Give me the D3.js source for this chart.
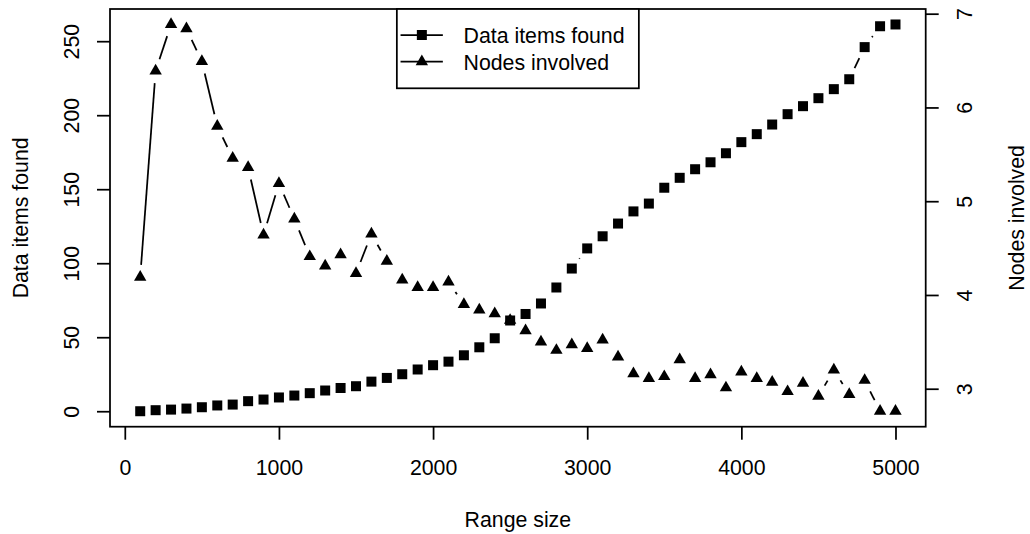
<!DOCTYPE html>
<html>
<head>
<meta charset="utf-8">
<script src="https://cdn.jsdelivr.net/npm/d3@7"></script>
<style>
  body { margin: 0; background: #fff; }
  svg text { font-family: "Liberation Sans", Arial, Helvetica, sans-serif; fill: #000; }
</style>
</head>
<body>
<div class="canva"></div>
<script>
// data
const rangeSize = [100, 200, 300, 400, 500, 600, 700, 800, 900, 1000,
  1100, 1200, 1300, 1400, 1500, 1600, 1700, 1800, 1900, 2000,
  2100, 2200, 2300, 2400, 2500, 2600, 2700, 2800, 2900, 3000,
  3100, 3200, 3300, 3400, 3500, 3600, 3700, 3800, 3900, 4000,
  4100, 4200, 4300, 4400, 4500, 4600, 4700, 4800, 4900, 5000]

const dataItems = [0, 0.7, 1.1, 1.8, 2.7, 3.9, 4.5, 6.8, 7.9, 9.3,
  10.6, 12.2, 14, 15.7, 16.9, 20, 22.5, 25, 28.2, 31.1,
  33.5, 37.8, 43.2, 49.3, 61.3, 65.7, 72.8, 83.6, 96.4, 110,
  118.2, 126.8, 135, 140.3, 151, 157.7, 163.5, 168.2, 174.3, 181.8,
  187.2, 193.7, 200.7, 206.1, 211.5, 217.6, 224.3, 246, 260.1, 261.3]

const nodesInvolved = [4.19, 6.39, 6.885, 6.84, 6.49, 5.80, 5.46, 5.36, 4.64, 5.19,
  4.81, 4.41, 4.31, 4.43, 4.23, 4.65, 4.36, 4.16, 4.08, 4.08,
  4.14, 3.90, 3.84, 3.80, 3.73, 3.62, 3.50, 3.41, 3.47, 3.43,
  3.52, 3.34, 3.16, 3.11, 3.13, 3.31, 3.11, 3.15, 3.01, 3.18,
  3.11, 3.07, 2.97, 3.06, 2.92, 3.20, 2.94, 3.09, 2.76, 2.76]

const xTicks = [0, 1000, 2000, 3000, 4000, 5000]
const leftTicks = [0, 50, 100, 150, 200, 250]
const rightTicks = [3, 4, 5, 6, 7]
const legendLabels = ['Data items found', 'Nodes involved']

//Add Svg Element
const W = 1030, H = 534
const plot = {left: 110, right: 925.7, top: 9, bottom: 426.7}
const fs = 21.3, lw = 1.75, gap = 12.3
const fmt = d3.format('d')

const svg = d3.select('.canva').append('svg')
    .attr('width', W)
    .attr('height', H)

// R style 4% padding on the data range
const pad = ext => {
  const d = (ext[1] - ext[0]) * 0.04
  return [ext[0] - d, ext[1] + d]
}

const x = d3.scaleLinear().domain(pad(d3.extent(rangeSize))).range([plot.left, plot.right])
const yL = d3.scaleLinear().domain(pad(d3.extent(dataItems))).range([plot.bottom, plot.top])
const yR = d3.scaleLinear().domain(pad(d3.extent(nodesInvolved))).range([plot.bottom, plot.top])

//Box
svg.append('rect')
    .attr('x', plot.left)
    .attr('y', plot.top)
    .attr('width', plot.right - plot.left)
    .attr('height', plot.bottom - plot.top)
    .attr('fill', 'none')
    .attr('stroke', '#000')
    .attr('stroke-width', lw)

//Axes
const tickLen = 13
const xAxis = svg.append('g')
    .attr('transform', `translate(0,${plot.bottom})`)
    .call(d3.axisBottom(x).tickValues(xTicks).tickFormat(fmt).tickSize(tickLen).tickSizeOuter(0).tickPadding(0))
xAxis.select('.domain').remove()
xAxis.selectAll('line').attr('stroke-width', lw)
xAxis.selectAll('text')
    .attr('y', 475 - plot.bottom)
    .attr('dy', null)
    .attr('font-size', fs)

const lAxis = svg.append('g')
    .attr('transform', `translate(${plot.left},0)`)
    .call(d3.axisLeft(yL).tickValues(leftTicks).tickFormat(fmt).tickSize(tickLen).tickSizeOuter(0))
lAxis.select('.domain').remove()
lAxis.selectAll('line').attr('stroke-width', lw)
lAxis.selectAll('text')
    .attr('x', null).attr('dy', null)
    .attr('font-size', fs)
    .attr('text-anchor', 'middle')
    .attr('transform', `translate(${79 - plot.left},0) rotate(-90)`)

const rAxis = svg.append('g')
    .attr('transform', `translate(${plot.right},0)`)
    .call(d3.axisRight(yR).tickValues(rightTicks).tickFormat(fmt).tickSize(tickLen).tickSizeOuter(0))
rAxis.select('.domain').remove()
rAxis.selectAll('line').attr('stroke-width', lw)
rAxis.selectAll('text')
    .attr('x', null).attr('dy', null)
    .attr('font-size', fs)
    .attr('text-anchor', 'middle')
    .attr('transform', `translate(${972 - plot.right},0) rotate(-90)`)
svg.selectAll('.tick text').attr('fill', '#000')
svg.selectAll('.tick line').attr('stroke', '#000')

//Axis titles
const midX = (plot.left + plot.right) / 2
const midY = (plot.top + plot.bottom) / 2
svg.append('text')
    .text('Range size')
    .attr('x', midX).attr('y', 527)
    .attr('text-anchor', 'middle')
    .attr('font-size', fs)
svg.append('text')
    .text('Data items found')
    .attr('transform', `translate(28,${midY}) rotate(-90)`)
    .attr('text-anchor', 'middle')
    .attr('font-size', fs)
svg.append('text')
    .text('Nodes involved')
    .attr('transform', `translate(1024,${midY}) rotate(-90)`)
    .attr('text-anchor', 'middle')
    .attr('font-size', fs)

//Symbols
const sq = 5
const tri = {r: 7.15, hw: 6.2, yc: 3.58}
const triPath = `M0,${-tri.r}L${tri.hw},${tri.yc}L${-tri.hw},${tri.yc}Z`

// type="b": lines between points with a gap round each point
function gappedSegments(pts) {
  const segs = []
  for (let i = 0; i < pts.length - 1; i++) {
    const [x1, y1] = pts[i], [x2, y2] = pts[i + 1]
    const d = Math.hypot(x2 - x1, y2 - y1)
    if (d <= 2 * gap) continue
    const ux = (x2 - x1) / d, uy = (y2 - y1) / d
    segs.push([x1 + ux * gap, y1 + uy * gap, x2 - ux * gap, y2 - uy * gap])
  }
  return segs
}

function drawSeries(values, yScale, kind) {
  const pts = rangeSize.map((r, i) => [x(r), yScale(values[i])])
  const g = svg.append('g')
  g.selectAll('line')
    .data(gappedSegments(pts))
    .enter().append('line')
    .attr('x1', d => d[0]).attr('y1', d => d[1])
    .attr('x2', d => d[2]).attr('y2', d => d[3])
    .attr('stroke', '#000')
    .attr('stroke-width', lw)
  if (kind === 'square') {
    g.selectAll('rect')
      .data(pts)
      .enter().append('rect')
      .attr('x', d => d[0] - sq).attr('y', d => d[1] - sq)
      .attr('width', sq * 2).attr('height', sq * 2)
      .attr('fill', '#000')
  } else {
    g.selectAll('path')
      .data(pts)
      .enter().append('path')
      .attr('d', triPath)
      .attr('transform', d => `translate(${d[0]},${d[1]})`)
      .attr('fill', '#000')
  }
}

drawSeries(dataItems, yL, 'square')
drawSeries(nodesInvolved, yR, 'triangle')

//Legend
const lg = {w: 242, h: 79.3}
lg.x = midX - lg.w / 2
lg.y = plot.top
svg.append('rect')
    .attr('x', lg.x).attr('y', lg.y)
    .attr('width', lg.w).attr('height', lg.h)
    .attr('fill', '#fff')
    .attr('stroke', '#000')
    .attr('stroke-width', lw)

const items = svg.selectAll('.lg-item')
    .data(legendLabels)
    .enter().append('g')
    .attr('class', 'lg-item')
    .attr('transform', (d, i) => `translate(${lg.x},${lg.y + 26 + i * 26.7})`)
items.append('line')
    .attr('x1', 3.7).attr('x2', 46)
    .attr('stroke', '#000')
    .attr('stroke-width', lw)
items.filter((d, i) => i === 0).append('rect')
    .attr('x', 25 - sq).attr('y', -sq)
    .attr('width', sq * 2).attr('height', sq * 2)
items.filter((d, i) => i === 1).append('path')
    .attr('d', triPath)
    .attr('transform', 'translate(25,0)')
items.append('text')
    .text(d => d)
    .attr('x', 66.7).attr('y', 8)
    .attr('font-size', fs)
</script>
</body>
</html>
